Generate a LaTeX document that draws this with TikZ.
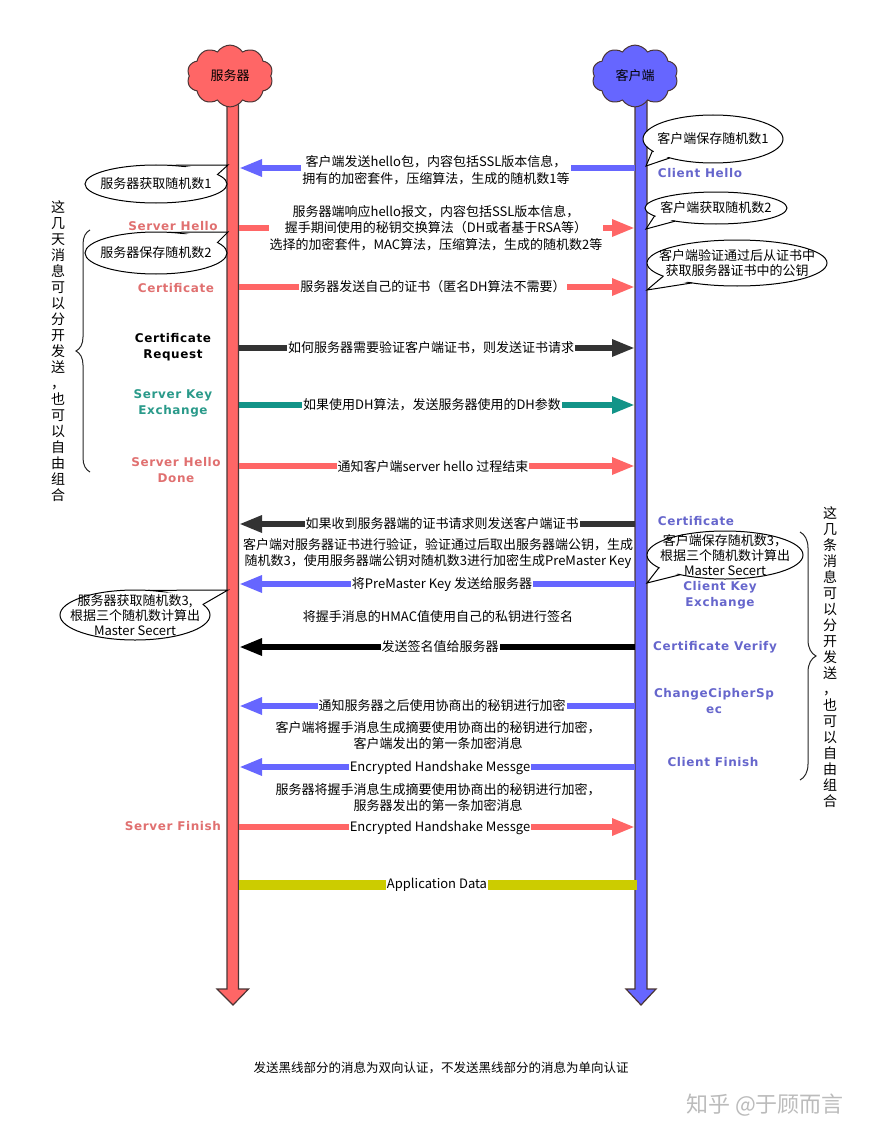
\documentclass[tikz,border=0pt]{standalone}
\usepackage{fontspec}
\setmainfont{Noto Sans CJK SC}
\newfontfamily\lbl{DejaVu Sans}[BoldFont={DejaVu Sans Bold}, LetterSpace=5]
\usetikzlibrary{arrows.meta,calc,shapes.symbols,decorations.pathreplacing}
\definecolor{srvred}{HTML}{FF6666}
\definecolor{cliblue}{HTML}{6666FF}
\definecolor{edgedark}{HTML}{4A3535}
\definecolor{redlbl}{HTML}{E07070}
\definecolor{bluelbl}{HTML}{6666CC}
\definecolor{teallbl}{HTML}{2A9A8A}
\definecolor{tealline}{HTML}{129488}
\definecolor{darkline}{HTML}{333333}
\definecolor{appline}{HTML}{CCCC00}
\definecolor{wmgray}{HTML}{BBBBBB}
\tikzset{
  msgline/.style={line width=6.5pt, -{Triangle[length=23pt,width=16pt]}},
  msgtxt/.style={font=\fontsize{13}{16.5}\selectfont, align=center, fill=white, inner sep=1pt},
  plaintxt/.style={font=\fontsize{13}{16}\selectfont, align=center, inner sep=1pt},
  lblfont/.style={font=\lbl\bfseries\fontsize{12}{16}\selectfont, align=center},
  lblred/.style={lblfont, text=redlbl},
  lblblue/.style={lblfont, text=bluelbl},
  lblteal/.style={lblfont, text=teallbl},
  lblblack/.style={lblfont, text=black},
  notetxt/.style={inner sep=0pt, align=center, font=\fontsize{13}{15}\selectfont},
  noteline/.style={line width=1pt, draw=black},
  vtxt/.style={font=\fontsize{14}{16}\selectfont, align=center, inner sep=0pt},
  bracestyle/.style={decorate, line width=1pt, draw=black!85}
}
% #1 name, #2 centre, #3 rx, #4 ry, #5 pointer, #6 angle a, #7 angle b, #8 text
\newcommand\notebubble[8]{%
  \coordinate (#1c) at #2;
  \coordinate (#1p) at #5;
  \coordinate (#1a) at ($(#1c)+({#3*cos(#6)},{#4*sin(#6)})$);
  \coordinate (#1b) at ($(#1c)+({#3*cos(#7)},{#4*sin(#7)})$);
  \coordinate (#1ai) at ($(#1c)+({(#3-3)*cos(#6)},{(#4-3)*sin(#6)})$);
  \coordinate (#1bi) at ($(#1c)+({(#3-3)*cos(#7)},{(#4-3)*sin(#7)})$);
  \draw[noteline, fill=white] (#1c) ellipse [x radius=#3, y radius=#4];
  \fill[white] (#1ai) -- (#1p) -- (#1bi) -- cycle;
  \draw[noteline, line join=miter] (#1a) -- (#1p) -- (#1b);
  \node[notetxt] (#1) at (#1c) {#8};
}
\begin{document}
\begin{tikzpicture}[x=1pt,y=-1pt]
\useasboundingbox (0,0) rectangle (880,1142);
% lifelines
\draw[fill=srvred, draw=edgedark, line width=1.2pt] (227,100) -- (238.5,100) -- (238.5,989) -- (248.5,989) -- (233,1005) -- (217,989) -- (227,989) -- cycle;
\draw[fill=cliblue, draw=edgedark, line width=1.2pt] (635,100) -- (647,100) -- (647,989) -- (656,989) -- (641,1005) -- (626,989) -- (635,989) -- cycle;
\node[cloud, cloud puffs=10, cloud puff arc=115, draw=edgedark, line width=1pt, fill=srvred, minimum width=86pt, minimum height=58pt, inner sep=0pt, font=\fontsize{13}{15}\selectfont] (srv) at (230,76) {服务器};
\node[cloud, cloud puffs=10, cloud puff arc=115, draw=edgedark, line width=1pt, fill=cliblue, minimum width=86pt, minimum height=58pt, inner sep=0pt, font=\fontsize{13}{15}\selectfont] (cli) at (635,76) {客户端};

% coordinates on lifelines
\foreach \n/\y in {1/168,2/228,3/287,4/348,5/405,6/466,7/524,8/584,9/647,10/706,11/767,12/827,13/885}{
  \coordinate (S\n) at (239,\y);
  \coordinate (C\n) at (635,\y);
}
\coordinate (C13b) at (637,885);

% messages
\draw[msgline, draw=cliblue, fill=cliblue] (C1) -- (S1);
\node[msgtxt] (m1) at (436,170) {客户端发送hello包，内容包括SSL版本信息，\\拥有的加密套件，压缩算法，生成的随机数1等};

\draw[msgline, draw=srvred, fill=srvred] (S2) -- (C2);
\node[msgtxt] (m2) at (436,228) {服务器端响应hello报文，内容包括SSL版本信息，\\握手期间使用的秘钥交换算法（DH或者基于RSA等）\\选择的加密套件，MAC算法，压缩算法，生成的随机数2等};

\draw[msgline, draw=srvred, fill=srvred] (S3) -- (C3);
\node[msgtxt] (m3) at (433,287) {服务器发送自己的证书（匿名DH算法不需要）};

\draw[msgline, draw=darkline, fill=darkline] (S4) -- (C4);
\node[msgtxt] (m4) at (431,348) {如何服务器需要验证客户端证书，则发送证书请求};

\draw[msgline, draw=tealline, fill=tealline] (S5) -- (C5);
\node[msgtxt] (m5) at (432,405) {如果使用DH算法，发送服务器使用的DH参数};

\draw[msgline, draw=srvred, fill=srvred] (S6) -- (C6);
\node[msgtxt] (m6) at (433,467) {通知客户端server hello 过程结束};

\draw[msgline, draw=darkline, fill=darkline] (C7) -- (S7);
\node[msgtxt] (m7) at (442,524) {如果收到服务器端的证书请求则发送客户端证书};
\node[plaintxt] (t7) at (438,553) {客户端对服务器证书进行验证，验证通过后取出服务器端公钥，生成\\随机数3，使用服务器端公钥对随机数3进行加密生成PreMaster Key};

\draw[msgline, draw=cliblue, fill=cliblue] (C8) -- (S8);
\node[msgtxt] (m8) at (442,585) {将PreMaster Key 发送给服务器};
\node[plaintxt] (t8) at (438,617) {将握手消息的HMAC值使用自己的私钥进行签名};

\draw[msgline, draw=black, fill=black] (C9) -- (S9);
\node[msgtxt] (m9) at (440,647) {发送签名值给服务器};

\draw[msgline, draw=cliblue, fill=cliblue] (C10) -- (S10);
\node[msgtxt] (m10) at (442,706) {通知服务器之后使用协商出的秘钥进行加密};
\node[plaintxt] (t10) at (438,736) {客户端将握手消息生成摘要使用协商出的秘钥进行加密，\\客户端发出的第一条加密消息};

\draw[msgline, draw=cliblue, fill=cliblue] (C11) -- (S11);
\node[msgtxt] (m11) at (440,768) {Encrypted Handshake Messge};
\node[plaintxt] (t11) at (438,798) {服务器将握手消息生成摘要使用协商出的秘钥进行加密，\\服务器发出的第一条加密消息};

\draw[msgline, draw=srvred, fill=srvred] (S12) -- (C12);
\node[msgtxt] (m12) at (440,828) {Encrypted Handshake Messge};

\draw[line width=10pt, draw=appline] (S13) -- (C13b);
\node[msgtxt] (m13) at (437,885) {Application Data};

% notes
\notebubble{n1}{(713,139)}{70}{24}{(646,166)}{128}{150}{客户端保存随机数1}
\notebubble{n2}{(716,208)}{71}{16}{(646,229)}{125}{150}{客户端获取随机数2}
\notebubble{n3}{(737,263)}{90}{23}{(647,290)}{120}{145}{客户端验证通过后从证书中\\获取服务器证书中的公钥}
\notebubble{n4}{(725,555)}{78}{24}{(647,583)}{125}{148}{客户端保存随机数3，\\根据三个随机数计算出\\Master Secert}
\notebubble{n5}{(156,184)}{71}{19}{(228,165)}{-80}{-30}{服务器获取随机数1}
\notebubble{n6}{(156,253)}{71}{21}{(228,232)}{-80}{-30}{服务器保存随机数2}
\notebubble{n7}{(135,615)}{75}{25}{(228,590)}{-80}{-25}{服务器获取随机数3,\\根据三个随机数计算出\\Master Secert}

% labels
\node[lblblue] (l1) at (700,173) {Client Hello};
\node[lblred] (l2) at (173,226) {Server Hello};
\node[lblred] (l3) at (176,288) {Certificate};
\node[lblblack] (l4) at (173,347) {Certificate\\Request};
\node[lblteal] (l5) at (173,403) {Server Key\\Exchange};
\node[lblred] (l6) at (176,470) {Server Hello\\Done};
\node[lblblue] (l7) at (696,521) {Certificate};
\node[lblblue] (l8) at (720,595) {Client Key\\Exchange};
\node[lblblue] (l9) at (715,647) {Certificate Verify};
\node[lblblue] (l10) at (714,701) {ChangeCipherSp\\ec};
\node[lblblue] (l11) at (713,762) {Client Finish};
\node[lblred] (l12) at (173,826) {Server Finish};

% braces and vertical texts
\coordinate (bl1) at (90,472);
\coordinate (bl2) at (90,230);
\draw[bracestyle, decoration={brace, amplitude=14pt}] (bl1) -- (bl2);
\coordinate (br1) at (800,532);
\coordinate (br2) at (800,780);
\draw[bracestyle, decoration={brace, amplitude=16pt}] (br1) -- (br2);
\node[vtxt] (vl) at (58,351) {这\\几\\天\\消\\息\\可\\以\\分\\开\\发\\送\\，\\也\\可\\以\\自\\由\\组\\合};
\node[vtxt] (vr) at (830,657) {这\\几\\条\\消\\息\\可\\以\\分\\开\\发\\送\\，\\也\\可\\以\\自\\由\\组\\合};

% bottom
\node[font=\fontsize{12.5}{15}\selectfont] (foot) at (441,1068) {发送黑线部分的消息为双向认证，不发送黑线部分的消息为单向认证};
\node[font=\fontsize{22}{26}\selectfont, text=wmgray] (wm) at (765,1105) {知乎 @于顾而言};
\end{tikzpicture}
\end{document}
